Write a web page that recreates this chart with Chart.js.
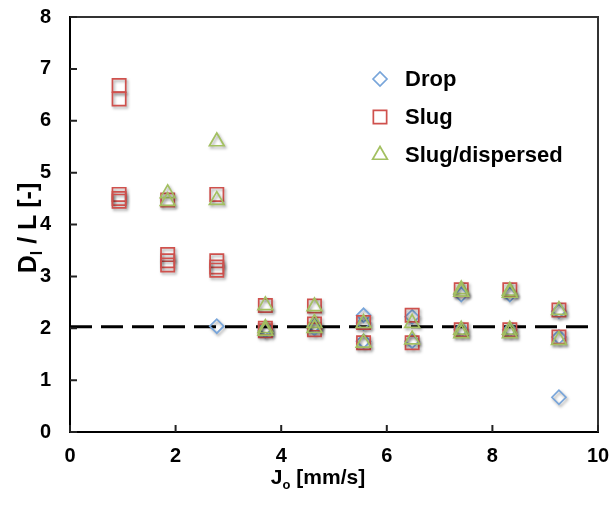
<!DOCTYPE html>
<html>
<head>
<meta charset="utf-8">
<script src="https://cdn.jsdelivr.net/npm/chart.js@4.4.1/dist/chart.umd.min.js"></script>
<style>
  html, body { margin: 0; padding: 0; background: #fff; }
</style>
</head>
<body>
<canvas id="chart" width="612" height="507"></canvas>
<script>
// axis ranges / ticks
const xTickStep = 2;
const yTickStep = 1;
const xRange = [0, 10];
const yRange = [0, 8];

// Drop
const dropX = [2.78, 3.70, 3.70, 4.63, 4.63, 5.56, 5.56, 5.56, 6.48, 6.48, 7.41, 7.41, 8.33, 8.33, 9.26, 9.26, 9.26];
const dropY = [2.04, 2.00, 1.95, 2.05, 2.00, 2.25, 2.10, 1.75, 2.22, 1.75, 2.65, 1.97, 2.65, 1.97, 2.33, 1.83, 0.67];

// Slug
const slugX = [0.93, 0.93, 0.93, 0.93, 0.93, 1.85, 1.85, 1.85, 1.85, 2.78, 2.78, 2.78, 2.78, 3.70, 3.70, 3.70, 4.63, 4.63, 4.63, 5.56, 5.56, 6.48, 6.48, 7.41, 7.41, 8.33, 8.33, 9.26, 9.26];
const slugY = [6.68, 6.42, 4.58, 4.50, 4.45, 4.47, 3.42, 3.30, 3.22, 4.58, 3.30, 3.18, 3.12, 2.44, 2.00, 1.95, 2.43, 2.08, 1.97, 2.11, 1.72, 2.25, 1.72, 2.74, 1.97, 2.74, 1.97, 2.35, 1.83];

// Slug/dispersed
const sdX = [1.85, 1.85, 2.78, 2.78, 3.70, 3.70, 3.70, 4.63, 4.63, 4.63, 5.56, 5.56, 6.48, 6.48, 7.41, 7.41, 7.41, 7.41, 8.33, 8.33, 8.33, 8.33, 9.26, 9.26];
const sdY = [4.60, 4.45, 5.60, 4.47, 2.44, 2.00, 1.95, 2.42, 2.10, 2.00, 2.10, 1.72, 2.10, 1.78, 2.75, 2.70, 1.97, 1.90, 2.72, 2.68, 1.97, 1.90, 2.35, 1.77];

// dashed reference line
const refX = [0, 10];
const refY = [2.03, 2.03];

const seriesNames = ['Drop', 'Slug', 'Slug/dispersed'];

const FONT = "'Liberation Sans', Arial, sans-serif";
const BLUE = '#78a5da';
const RED = '#cf514d';
const GREEN = '#a3c061';

const toPoints = (xs, ys) => xs.map((x, i) => ({ x, y: ys[i] }));

const markerStyles = [
  { style: 'rectRot', radius: 7, color: BLUE },
  { style: 'rect', radius: 9.4, color: RED },
  { style: 'triangle', radius: 8.5, color: GREEN }
];

function drawMarker(ctx, m, x, y) {
  ctx.beginPath();
  if (m.style === 'rectRot') {
    ctx.moveTo(x - m.radius, y);
    ctx.lineTo(x, y - m.radius);
    ctx.lineTo(x + m.radius, y);
    ctx.lineTo(x, y + m.radius);
  } else if (m.style === 'rect') {
    const s = m.radius * Math.SQRT1_2;
    ctx.rect(x - s, y - s, 2 * s, 2 * s);
  } else {
    const r = m.radius;
    ctx.moveTo(x, y - r);
    ctx.lineTo(x + r * Math.sin(2 * Math.PI / 3), y + r / 2);
    ctx.lineTo(x - r * Math.sin(2 * Math.PI / 3), y + r / 2);
  }
  ctx.closePath();
  ctx.strokeStyle = m.color;
  ctx.lineWidth = 1.7;
  ctx.stroke();
}

// text with a subscript piece
function subText(ctx, parts, size) {
  let w = 0;
  parts.forEach(p => {
    ctx.font = `bold ${p.sub ? Math.round(size * 0.62) : size}px ${FONT}`;
    w += ctx.measureText(p.t).width;
  });
  return w;
}
function drawSubText(ctx, parts, size, x, y) {
  parts.forEach(p => {
    ctx.font = `bold ${p.sub ? Math.round(size * 0.62) : size}px ${FONT}`;
    ctx.fillText(p.t, x, y + (p.sub ? size * 0.22 : 0));
    x += ctx.measureText(p.t).width;
  });
}

const decorPlugin = {
  id: 'decor',
  beforeDatasetDraw(chart, args) {
    if (chart.data.datasets[args.index].isRef) return;
    const ctx = chart.ctx;
    ctx.save();
    ctx.shadowColor = 'rgba(0,0,0,0.35)';
    ctx.shadowBlur = 3;
    ctx.shadowOffsetX = 1.5;
    ctx.shadowOffsetY = 2;
  },
  afterDatasetDraw(chart, args) {
    if (chart.data.datasets[args.index].isRef) return;
    chart.ctx.restore();
  },
  afterDraw(chart) {
    const ctx = chart.ctx;
    const a = chart.chartArea;
    const xs = chart.scales.x;
    const ys = chart.scales.y;
    ctx.save();

    // frame
    ctx.lineCap = 'square';
    ctx.strokeStyle = '#333';
    ctx.lineWidth = 2;
    ctx.beginPath();
    ctx.moveTo(a.left, a.top);
    ctx.lineTo(a.right, a.top);
    ctx.lineTo(a.right, a.bottom);
    ctx.stroke();
    ctx.strokeStyle = '#000';
    ctx.beginPath();
    ctx.moveTo(a.left, a.top);
    ctx.lineTo(a.left, a.bottom);
    ctx.lineTo(a.right, a.bottom);
    ctx.stroke();

    // inward tick marks
    ctx.lineCap = 'butt';
    ctx.strokeStyle = '#222';
    ctx.lineWidth = 2;
    ctx.beginPath();
    xs.ticks.forEach(t => {
      const px = xs.getPixelForValue(t.value);
      ctx.moveTo(px, a.bottom);
      ctx.lineTo(px, a.bottom - 7);
    });
    ys.ticks.forEach(t => {
      const py = ys.getPixelForValue(t.value);
      ctx.moveTo(a.left, py);
      ctx.lineTo(a.left + 7, py);
    });
    ctx.stroke();

    // axis titles
    ctx.fillStyle = '#000';
    ctx.textBaseline = 'alphabetic';
    ctx.textAlign = 'left';
    const xt = [{ t: 'J' }, { t: 'o', sub: true }, { t: ' [mm/s]' }];
    const xw = subText(ctx, xt, 21);
    drawSubText(ctx, xt, 21, 318 - xw / 2, 484);

    const yt = [{ t: 'D' }, { t: 'l', sub: true }, { t: ' / L [-]' }];
    const yw = subText(ctx, yt, 25);
    ctx.translate(36, 228);
    ctx.rotate(-Math.PI / 2);
    drawSubText(ctx, yt, 25, -yw / 2, 0);
    ctx.setTransform(1, 0, 0, 1, 0, 0);

    // legend
    ctx.textBaseline = 'middle';
    ctx.font = `bold 22px ${FONT}`;
    seriesNames.forEach((name, i) => {
      const y = 79 + i * 38;
      drawMarker(ctx, markerStyles[i], 380, y);
      ctx.fillStyle = '#000';
      ctx.fillText(name, 405, y + 1);
    });
    ctx.restore();
  }
};

const scatterSet = (label, xs, ys, i, order) => ({
  label,
  data: toPoints(xs, ys),
  pointStyle: markerStyles[i].style,
  pointRadius: markerStyles[i].radius,
  pointHoverRadius: markerStyles[i].radius,
  pointBorderColor: markerStyles[i].color,
  pointBackgroundColor: 'rgba(0,0,0,0)',
  pointBorderWidth: 1.7,
  order
});

new Chart(document.getElementById('chart'), {
  type: 'scatter',
  data: {
    datasets: [
      {
        label: 'ref',
        isRef: true,
        data: toPoints(refX, refY),
        showLine: true,
        borderColor: '#000',
        borderWidth: 3,
        borderDash: [22, 9],
        pointRadius: 0,
        order: 5
      },
      scatterSet(seriesNames[0], dropX, dropY, 0, 4),
      scatterSet(seriesNames[1], slugX, slugY, 1, 3),
      scatterSet(seriesNames[2], sdX, sdY, 2, 2)
    ]
  },
  options: {
    responsive: false,
    animation: false,
    events: [],
    layout: { padding: { top: 17, right: 14, left: 0, bottom: 0 } },
    plugins: {
      legend: { display: false },
      tooltip: { enabled: false }
    },
    scales: {
      x: {
        type: 'linear',
        min: xRange[0],
        max: xRange[1],
        ticks: {
          stepSize: xTickStep,
          padding: 12,
          color: '#000',
          font: { family: FONT, size: 20, weight: 'bold' }
        },
        grid: { display: false, drawTicks: false },
        border: { display: false },
        afterFit: s => { s.height = 75; s.paddingLeft = 0; s.paddingRight = 0; }
      },
      y: {
        type: 'linear',
        min: yRange[0],
        max: yRange[1],
        ticks: {
          stepSize: yTickStep,
          padding: 19,
          color: '#000',
          font: { family: FONT, size: 20, weight: 'bold' }
        },
        grid: { display: false, drawTicks: false },
        border: { display: false },
        afterFit: s => { s.width = 70; s.paddingTop = 0; s.paddingBottom = 0; }
      }
    }
  },
  plugins: [decorPlugin]
});
</script>
</body>
</html>
